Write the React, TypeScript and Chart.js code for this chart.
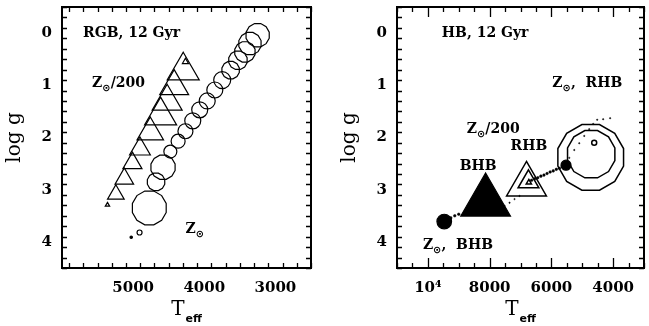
import { useEffect, useRef } from "react";
import { Chart, registerables } from "chart.js";

Chart.register(...registerables);

// ---------- RGB, 12 Gyr ----------
// Z☉/200 giant branch (open triangles)
const rgbPoorTeff = [5361, 5243, 5124, 5010, 4904, 4759, 4614, 4522, 4423, 4296, 4265];
const rgbPoorLogg = [3.29, 3.09, 2.79, 2.49, 2.22, 1.9, 1.58, 1.31, 1.02, 0.72, 0.55];
const rgbPoorSize = [2.5, 9.6, 10.7, 11, 12, 15.3, 18.5, 17.3, 16.7, 18.5, 3.5];

// Z☉ giant branch (open circles)
const rgbSolarTeff = [4910, 4773, 4678, 4580, 4477, 4368, 4265, 4162, 4064, 3959, 3852, 3748, 3630, 3527, 3429, 3358, 3250];
const rgbSolarLogg = [3.82, 3.35, 2.85, 2.57, 2.27, 2.07, 1.88, 1.68, 1.47, 1.3, 1.09, 0.9, 0.71, 0.52, 0.36, 0.2, 0.04];
const rgbSolarSize = [2.5, 17.5, 9, 12.5, 6.5, 7, 7.5, 8, 8, 8, 8, 8.5, 9, 9.5, 10.5, 11.5, 12];

// Z☉ lowest point (filled dot)
const rgbSolarDotTeff = [5027];
const rgbSolarDotLogg = [3.91];

// ---------- HB, 12 Gyr ----------
// Z☉ BHB (filled circle)
const hbSolarBlueTeff = [9470];
const hbSolarBlueLogg = [3.61];
const hbSolarBlueSize = [7.3];

// Z☉/200 BHB (filled triangle)
const hbPoorBlueTeff = [8130];
const hbPoorBlueLogg = [3.23];
const hbPoorBlueSize = [28.7];

// Z☉/200 RHB (open triangles)
const hbPoorRedTeff = [6806, 6742, 6730];
const hbPoorRedLogg = [2.9, 2.85, 2.86];
const hbPoorRedSize = [23, 12, 3];

// Z☉ RHB (open circles)
const hbSolarRedTeff = [4726, 4710, 4613];
const hbSolarRedLogg = [2.38, 2.32, 2.1];
const hbSolarRedSize = [34, 24.5, 2.5];

// Z☉ RHB clump point (filled circle)
const hbSolarClumpTeff = [5526];
const hbSolarClumpLogg = [2.53];
const hbSolarClumpSize = [5];

// evolutionary track dots, dense chain
const trackDenseTeff = [6640, 6540, 6440, 6340, 6240, 6140, 6040, 5940, 5840, 5740, 5640, 9258, 9129, 9000];
const trackDenseLogg = [2.82, 2.79, 2.77, 2.74, 2.72, 2.69, 2.66, 2.64, 2.61, 2.59, 2.56, 3.54, 3.5, 3.47];

// evolutionary track dots, sparse
const trackSparseTeff = [7516, 7355, 7194, 7032, 5419, 5258, 5097, 4935, 4774, 4645, 4516, 4323, 4097];
const trackSparseLogg = [3.31, 3.25, 3.18, 3.12, 2.39, 2.24, 2.11, 1.97, 1.84, 1.74, 1.66, 1.65, 1.63];

// ---------- axes ----------
const leftTeffRange = [6000, 2500];
const leftTeffTicks = [5000, 4000, 3000];
const leftTeffLabels = ["5000", "4000", "3000"];
const rightTeffRange = [11000, 3000];
const rightTeffTicks = [10000, 8000, 6000, 4000];
const rightTeffLabels = ["10\u2074", "8000", "6000", "4000"];
const loggRange = [-0.5, 4.5];
const loggTicks = [0, 1, 2, 3, 4];
const loggLabels = ["0", "1", "2", "3", "4"];

const SERIF = "'DejaVu Serif', serif";
const SANS = "'DejaVu Sans', sans-serif";
const SUN = "\u2299";

type Part = { t: string; font: string; dy?: number };
type Note = { teff: number; logg: number; parts: Part[] };

const lbl = `bold 14px ${SERIF}`;
const sub = `bold 10px ${SANS}`;

const leftNotes: Note[] = [
  { teff: 5704, logg: 0.075, parts: [{ t: "RGB, 12 Gyr", font: lbl }] },
  { teff: 5577, logg: 1.03, parts: [{ t: "Z", font: lbl }, { t: SUN, font: sub, dy: 4 }, { t: "/200", font: lbl }] },
  { teff: 4265, logg: 3.83, parts: [{ t: "Z", font: lbl }, { t: SUN, font: sub, dy: 4 }] },
];

const rightNotes: Note[] = [
  { teff: 9548, logg: 0.075, parts: [{ t: "HB, 12 Gyr", font: lbl }] },
  { teff: 5968, logg: 1.03, parts: [{ t: "Z", font: lbl }, { t: SUN, font: sub, dy: 4 }, { t: ",  RHB", font: lbl }] },
  { teff: 8742, logg: 1.91, parts: [{ t: "Z", font: lbl }, { t: SUN, font: sub, dy: 4 }, { t: "/200", font: lbl }] },
  { teff: 7323, logg: 2.24, parts: [{ t: "RHB", font: lbl }] },
  { teff: 8968, logg: 2.62, parts: [{ t: "BHB", font: lbl }] },
  { teff: 10161, logg: 4.14, parts: [{ t: "Z", font: lbl }, { t: SUN, font: sub, dy: 4 }, { t: ",  BHB", font: lbl }] },
];

function pts(xs: number[], ys: number[]) {
  return xs.map((x, i) => ({ x, y: ys[i] }));
}

function ds(xs: number[], ys: number[], r: number[] | number, style: string, filled: boolean, bw = 1.2) {
  return {
    data: pts(xs, ys),
    pointStyle: style,
    pointRadius: r,
    pointHoverRadius: r,
    borderColor: "#000",
    backgroundColor: filled ? "#000" : "rgba(0,0,0,0)",
    pointBorderWidth: bw,
    borderWidth: bw,
    showLine: false,
    clip: false,
  };
}

// open rings: the point elements are placed by the scales; their outlines are
// stroked by the ring plugin (12-sided for the large ones)
function ringDs(xs: number[], ys: number[], r: number[], bw = 1.2) {
  return {
    ...ds(xs, ys, r, "circle", false, 0),
    borderColor: "rgba(0,0,0,0)",
    ring: true,
    ringWidth: bw,
  };
}

const ringPlugin = {
  id: "rings",
  afterDatasetsDraw(chart: any) {
    const { ctx } = chart;
    chart.data.datasets.forEach((d: any, i: number) => {
      if (!d.ring) return;
      const meta = chart.getDatasetMeta(i);
      ctx.save();
      ctx.strokeStyle = "#000";
      ctx.lineWidth = d.ringWidth;
      meta.data.forEach((el: any) => {
        const r = el.options.radius;
        ctx.beginPath();
        if (r >= 9) {
          for (let k = 0; k < 12; k++) {
            const ang = ((15 + 30 * k) * Math.PI) / 180;
            const px = el.x + r * Math.cos(ang);
            const py = el.y + r * Math.sin(ang);
            if (k === 0) ctx.moveTo(px, py);
            else ctx.lineTo(px, py);
          }
          ctx.closePath();
        } else {
          ctx.arc(el.x, el.y, r, 0, Math.PI * 2);
        }
        ctx.stroke();
      });
      ctx.restore();
    });
  },
};

function steps(from: number, to: number, step: number) {
  const out: number[] = [];
  for (let v = from; v <= to + 1e-9; v += step) out.push(Math.round(v * 1000) / 1000);
  return out;
}

type PanelSpec = {
  width: number;
  axisWidth: number;
  padRight: number;
  xRange: number[];
  xTicks: number[];
  xLabels: string[];
  xMinorStep: number;
  notes: Note[];
  datasets: () => any[];
};

function framePlugin(spec: PanelSpec) {
  return {
    id: "frame",
    afterDraw(chart: any) {
      const { ctx, chartArea: a, scales } = chart;
      const xs = scales.x;
      const ys = scales.y;
      ctx.save();
      ctx.strokeStyle = "#000";
      ctx.lineWidth = 1.3;
      ctx.beginPath();
      const lo = Math.min(spec.xRange[0], spec.xRange[1]);
      const hi = Math.max(spec.xRange[0], spec.xRange[1]);
      for (const v of steps(lo, hi, spec.xMinorStep)) {
        const len = spec.xTicks.includes(v) ? 10 : 5;
        const px = Math.round(xs.getPixelForValue(v)) + 0.5;
        ctx.moveTo(px, a.bottom);
        ctx.lineTo(px, a.bottom - len);
        ctx.moveTo(px, a.top);
        ctx.lineTo(px, a.top + len);
      }
      for (const v of steps(loggRange[0], loggRange[1], 0.2)) {
        const major = loggTicks.some((t) => Math.abs(t - v) < 1e-6);
        const len = major ? 11 : 5;
        const py = Math.round(ys.getPixelForValue(v)) + 0.5;
        ctx.moveTo(a.left, py);
        ctx.lineTo(a.left + len, py);
        ctx.moveTo(a.right, py);
        ctx.lineTo(a.right - len, py);
      }
      ctx.stroke();
      ctx.lineWidth = 2;
      ctx.strokeRect(a.left, a.top, a.right - a.left, a.bottom - a.top);

      // annotations
      ctx.fillStyle = "#000";
      ctx.textBaseline = "alphabetic";
      ctx.textAlign = "left";
      for (const n of spec.notes) {
        let px = xs.getPixelForValue(n.teff);
        const py = ys.getPixelForValue(n.logg);
        for (const p of n.parts) {
          ctx.font = p.font;
          ctx.fillText(p.t, px, py + (p.dy || 0));
          px += ctx.measureText(p.t).width;
        }
      }

      // axis titles
      const cx = (a.left + a.right) / 2;
      ctx.font = `20px ${SERIF}`;
      const tW = ctx.measureText("T").width;
      ctx.font = `bold 11px ${SANS}`;
      const eW = ctx.measureText("eff").width;
      const start = cx - (tW + eW + 1) / 2;
      ctx.font = `20px ${SERIF}`;
      ctx.fillText("T", start, 315);
      ctx.font = `bold 11px ${SANS}`;
      ctx.fillText("eff", start + tW + 1, 322);

      ctx.save();
      ctx.translate(a.left - 42, (a.top + a.bottom) / 2);
      ctx.rotate(-Math.PI / 2);
      ctx.textAlign = "center";
      ctx.font = `20px ${SERIF}`;
      ctx.fillText("log g", 0, 0);
      ctx.restore();
      ctx.restore();
    },
  };
}

function Panel({ spec }: { spec: PanelSpec }) {
  const ref = useRef<HTMLCanvasElement | null>(null);
  useEffect(() => {
    if (!ref.current) return;
    const tickFont = { family: SERIF, size: 15, weight: "bold" as const };
    const chart = new Chart(ref.current, {
      type: "scatter",
      data: { datasets: spec.datasets() },
      options: {
        responsive: false,
        animation: false,
        events: [],
        layout: { autoPadding: false, padding: { top: 7, right: spec.padRight, left: 0, bottom: 0 } },
        plugins: { legend: { display: false }, tooltip: { enabled: false } },
        scales: {
          x: {
            type: "linear",
            reverse: true,
            min: Math.min(spec.xRange[0], spec.xRange[1]),
            max: Math.max(spec.xRange[0], spec.xRange[1]),
            grid: { display: false, drawTicks: false },
            border: { display: false },
            afterBuildTicks: (s: any) => {
              s.ticks = spec.xTicks.map((value) => ({ value }));
            },
            afterFit: (s: any) => {
              s.height = 58;
              s.paddingLeft = 0;
              s.paddingRight = 0;
            },
            ticks: {
              color: "#000",
              font: tickFont,
              padding: 11,
              maxRotation: 0,
              autoSkip: false,
              callback: (v: any) => spec.xLabels[spec.xTicks.indexOf(Number(v))] ?? "",
            },
          },
          y: {
            type: "linear",
            reverse: true,
            min: loggRange[0],
            max: loggRange[1],
            grid: { display: false, drawTicks: false },
            border: { display: false },
            afterBuildTicks: (s: any) => {
              s.ticks = loggTicks.map((value) => ({ value }));
            },
            afterFit: (s: any) => {
              s.width = spec.axisWidth;
              s.paddingTop = 0;
              s.paddingBottom = 0;
            },
            ticks: {
              color: "#000",
              font: tickFont,
              padding: 10,
              autoSkip: false,
              callback: (v: any) => loggLabels[loggTicks.indexOf(Number(v))] ?? "",
            },
          },
        },
      },
      plugins: [ringPlugin, framePlugin(spec)],
    } as any);
    return () => chart.destroy();
  }, [spec]);
  return <canvas ref={ref} width={spec.width} height={326} style={{ display: "block" }} />;
}

const leftSpec: PanelSpec = {
  width: 325,
  axisWidth: 62,
  padRight: 14,
  xRange: leftTeffRange,
  xTicks: leftTeffTicks,
  xLabels: leftTeffLabels,
  xMinorStep: 200,
  notes: leftNotes,
  datasets: () => [
    ds(rgbPoorTeff, rgbPoorLogg, rgbPoorSize, "triangle", false),
    ringDs(rgbSolarTeff, rgbSolarLogg, rgbSolarSize, 1.2),
    ds(rgbSolarDotTeff, rgbSolarDotLogg, 1.2, "circle", true),
  ],
};

const rightSpec: PanelSpec = {
  width: 324,
  axisWidth: 72,
  padRight: 5,
  xRange: rightTeffRange,
  xTicks: rightTeffTicks,
  xLabels: rightTeffLabels,
  xMinorStep: 500,
  notes: rightNotes,
  datasets: () => [
    ds(trackSparseTeff, trackSparseLogg, 0.7, "circle", true, 0.5),
    ds(trackDenseTeff, trackDenseLogg, 1.3, "circle", true, 0.5),
    ds(hbSolarBlueTeff, hbSolarBlueLogg, hbSolarBlueSize, "circle", true),
    ds(hbPoorBlueTeff, hbPoorBlueLogg, hbPoorBlueSize, "triangle", true),
    ds(hbPoorRedTeff, hbPoorRedLogg, hbPoorRedSize, "triangle", false, 1.5),
    ringDs(hbSolarRedTeff, hbSolarRedLogg, hbSolarRedSize, 1.5),
    ds(hbSolarClumpTeff, hbSolarClumpLogg, hbSolarClumpSize, "circle", true),
  ],
};

export default function App() {
  return (
    <div style={{ position: "absolute", left: 0, top: 0, width: 649, height: 326, background: "#fff", display: "flex" }}>
      <Panel spec={leftSpec} />
      <Panel spec={rightSpec} />
    </div>
  );
}
